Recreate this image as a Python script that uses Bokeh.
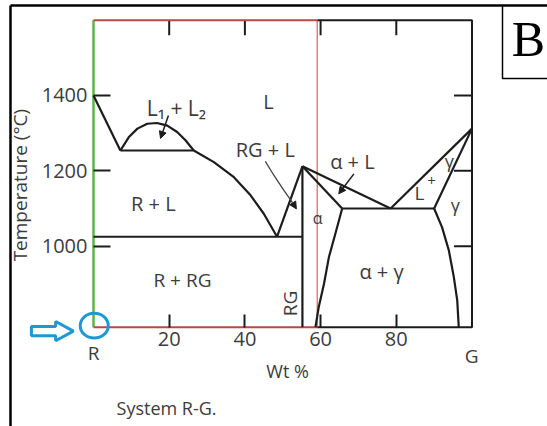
import math
from bokeh.plotting import figure
from bokeh.models import LinearAxis, FixedTicker, Range1d, Arrow, NormalHead
from bokeh.core.properties import value
from bokeh.embed import file_html
from bokeh.resources import INLINE

# ---------------- data (wt % G, temperature degC) ----------------
T_ticks = [1000, 1200, 1400]
wt_ticks = [20, 40, 60, 80]
T_min, T_max = 785, 1600
wt_min, wt_max = 0, 100

liqR_wt = [0, 7.1]
liqR_T = [1400, 1254]
mono_wt = [7.1, 26.5]
mono_T = [1254, 1254]
dome_wt = [7.1, 9.3, 11.6, 14.2, 16.8, 19.5, 22.1, 24.3, 26.5]
dome_T = [1254, 1289, 1312, 1325, 1327, 1320, 1303, 1281, 1254]
liqL_wt = [26.5, 31.8, 37.1, 41.5, 45.0, 48.5]
liqL_T = [1254, 1223, 1183, 1135, 1086, 1025]
eut1_wt = [0, 55.2]
eut1_T = [1025, 1025]
rg_wt = [55.2, 55.2]
rg_T = [785, 1212]
rgliq_wt = [48.5, 55.2]
rgliq_T = [1025, 1212]
asol_wt = [55.2, 65.7]
asol_T = [1212, 1100]
aliq_wt = [55.2, 78.5]
aliq_T = [1212, 1100]
eut2_wt = [65.7, 90.0]
eut2_T = [1100, 1100]
asolv_wt = [65.7, 63.9, 62.2, 60.9, 59.5, 58.65]
asolv_T = [1100, 1033, 971, 900, 838, 785]
gliq_wt = [78.5, 100]
gliq_T = [1100, 1312]
gsol_wt = [90.0, 100]
gsol_T = [1100, 1312]
gsolv_wt = [90.0, 92.1, 93.9, 95.2, 96.1, 96.5]
gsolv_T = [1100, 1050, 988, 918, 856, 785]
red_wt = 59.1

# region labels
lab_text = ["L\u2081 + L\u2082", "L", "RG + L", "\u03b1 + L", "R + L", "R + RG",
            "\u03b1 + \u03b3", "R", "G", "Wt %", "System R-G."]
lab_x = [21.9, 46.2, 45.4, 68.4, 15.8, 23.5, 76.1, 0.0, 99.9, 51.3, 19.3]
lab_y = [1368, 1384, 1256, 1226, 1112, 909, 933, 716, 708, 669, 571]
lab_size = ["21px", "20px", "20px", "20px", "20px", "19px", "20px", "19px", "19px", "18px", "18px"]

small_text = ["\u03b1", "\u03b3", "L", "+", "\u03b3"]
small_x = [59.2, 94.0, 86.1, 89.3, 95.6]
small_y = [1076, 1225, 1140, 1174, 1110]
small_size = ["16px", "18px", "19px", "15px", "18px"]

# ---------------- figure ----------------
X0, X1 = -24.57, 119.95
Y0, Y1 = 521.2, 1652.2
FONT = "Open Sans"
INK = "#1c1c1c"
TXT = "#3c3c3c"
RED = "#b84a44"
GREEN = "#5cb546"
BLUE = "#1e98d4"

p = figure(width=547, height=426, output_backend="svg", toolbar_location=None,
           x_range=Range1d(X0, X1), y_range=Range1d(Y0, Y1),
           x_axis_type=None, y_axis_type=None, min_border=0)
p.grid.visible = False
p.outline_line_color = None
p.background_fill_color = "white"

common = dict(axis_line_color=None, minor_tick_line_color=None,
              major_tick_line_color=INK, major_tick_line_width=2, major_tick_out=0,
              major_label_text_font=FONT, major_label_text_color=TXT)

yax = LinearAxis(fixed_location=wt_min, ticker=FixedTicker(ticks=T_ticks), major_tick_in=17,
                 major_label_text_font_size="20px", major_label_standoff=6, **common)
p.add_layout(yax, "left")
xax = LinearAxis(fixed_location=T_min, ticker=FixedTicker(ticks=wt_ticks), major_tick_in=13,
                 major_label_text_font_size="20px", major_label_standoff=5, **common)
p.add_layout(xax, "below")

# inward ticks on the right and top edges of the box
p.segment(x0=[wt_max] * len(T_ticks), y0=T_ticks, x1=[wt_max - 4.75] * len(T_ticks), y1=T_ticks,
          line_color=INK, line_width=2)
p.segment(x0=wt_ticks, y0=[T_max] * len(wt_ticks), x1=wt_ticks, y1=[T_max - 40] * len(wt_ticks),
          line_color=INK, line_width=2)

# diagram box
p.line([wt_min, wt_min], [T_min, T_max], line_color=GREEN, line_width=2.5)
p.line([wt_min, red_wt], [T_max, T_max], line_color=RED, line_width=2)
p.line([wt_min, red_wt], [T_min, T_min], line_color=RED, line_width=2)
p.line([red_wt, wt_max, wt_max, red_wt], [T_max, T_max, T_min, T_min], line_color=INK, line_width=2)
p.line([red_wt, red_wt], [T_min, T_max], line_color=RED, line_width=1)

# phase boundaries
for xs, ys in [(liqR_wt, liqR_T), (mono_wt, mono_T), (dome_wt, dome_T), (liqL_wt, liqL_T),
               (eut1_wt, eut1_T), (rg_wt, rg_T), (rgliq_wt, rgliq_T), (asol_wt, asol_T),
               (aliq_wt, aliq_T), (eut2_wt, eut2_T), (asolv_wt, asolv_T), (gliq_wt, gliq_T),
               (gsol_wt, gsol_T), (gsolv_wt, gsolv_T)]:
    p.line(xs, ys, line_color=INK, line_width=2.2, line_join="round")

# labels
for t, x, y, s in zip(lab_text, lab_x, lab_y, lab_size):
    p.text([x], [y], text=[t], text_font=value(FONT), text_font_size=value(s), text_color=TXT,
           text_align="center", text_baseline="middle")
for t, x, y, s in zip(small_text, small_x, small_y, small_size):
    p.text([x], [y], text=[t], text_font=value(FONT), text_font_size=value(s), text_color=TXT,
           text_align="center", text_baseline="middle")
p.text([52.0], [848], text=["RG"], angle=math.pi / 2, text_font=value(FONT),
       text_font_size=value("19px"), text_color=TXT, text_align="center", text_baseline="middle")
p.text([-19.3], [1162], text=["Temperature (\u00b0C)"], angle=math.pi / 2, text_font=value(FONT),
       text_font_size=value("19px"), text_color=TXT, text_align="center", text_baseline="middle")

# pointer arrows
p.add_layout(Arrow(end=NormalHead(size=7, fill_color=INK, line_color=INK), line_color=INK,
                   line_width=1.5, x_start=19.8, y_start=1347, x_end=17.7, y_end=1286))
p.line([45.4, 47.6, 50.3, 52.5], [1225, 1189, 1148, 1117], line_color="#444444", line_width=1.3)
p.add_layout(Arrow(end=NormalHead(size=7, fill_color=INK, line_color=INK), line_color="#444444",
                   line_width=1.3, x_start=52.5, y_start=1117, x_end=53.6, y_end=1099))
p.add_layout(Arrow(end=NormalHead(size=7, fill_color=INK, line_color=INK), line_color=INK,
                   line_width=1.5, x_start=68.8, y_start=1192, x_end=64.8, y_end=1139))

# blue marker at the R corner
p.ellipse([0.2], [789], width=7.4, height=66, fill_color=None, line_color=BLUE, line_width=3)
arr_x = [-16.4, -10.0, -10.0, -5.3, -10.0, -10.0, -16.4]
arr_y = [787, 787, 800, 774.5, 749, 762, 762]
p.patch(arr_x, arr_y, fill_color="white", line_color=BLUE, line_width=3)

# page frame and panel letter
p.line([-21.93, -21.93], [Y0, 1639], line_color="black", line_width=2.5)
p.line([-21.93, X1], [1639, 1639], line_color="black", line_width=2.5)
p.line([108.06, 108.06, X1], [1639, 1445, 1445], line_color="black", line_width=1.5)
p.text([114.9], [1551], text=["B"], text_font=value("Liberation Serif"), text_font_size=value("50px"),
       text_color="black", text_align="center", text_baseline="middle")

open("out.html", "w").write(file_html(p, INLINE))
